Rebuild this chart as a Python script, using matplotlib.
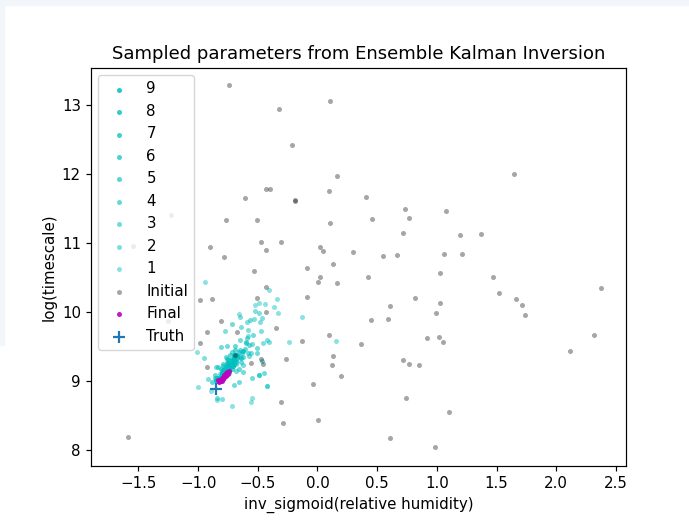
import matplotlib
matplotlib.use("Agg")
import matplotlib.pyplot as plt
from matplotlib.patches import Rectangle

# initial ensemble (prior draws)
init_x = [-0.744, 0.102, -0.322, -0.216, 0.163, 1.649, -0.428, -0.398, 0.093, -0.610,
          -0.188, -0.185, 0.409, 0.733, 1.073, 0.769, -0.766, -0.510, 0.102, 0.454,
          0.716, 1.191, 1.372, -0.470, -0.303, -0.903, 0.018, 0.049, -0.428, -0.783,
          0.300, 0.545, 0.665, 1.056, 1.207, 0.130, -0.091, -0.532, 1.029, 0.018,
          0.007, 0.161, 0.423, 1.467, 2.375, -0.433, 1.517, -0.091, -0.507, -0.884,
          0.816, 1.660, 0.607, 1.026, 1.710, 1.738, -0.984, -0.434, 0.990, -0.808,
          0.451, 0.591, -0.348, -0.674, -0.928, 2.316, 0.096, 0.917, 1.015, 1.052,
          -0.127, 0.362, -0.984, 2.112, -0.687, -0.261, 0.130, -0.473, 0.716, -0.554,
          -0.454, 0.769, 0.847, 0.121, -0.923, 0.197, -0.035, 0.741, 1.102, -0.303,
          -0.289, 0.001, 0.604, 0.987, -1.587, -1.227, -1.545, -1.250]
init_y = [13.285, 13.053, 12.947, 12.425, 11.976, 12.000, 11.783, 11.778, 11.754, 11.647,
          11.623, 11.615, 11.667, 11.498, 11.469, 11.357, 11.329, 11.338, 11.285, 11.348,
          11.150, 11.116, 11.130, 11.014, 11.010, 10.947, 10.947, 10.889, 10.899, 10.802,
          10.870, 10.816, 10.821, 10.836, 10.836, 10.691, 10.633, 10.589, 10.565, 10.507,
          10.430, 10.420, 10.507, 10.502, 10.353, 10.367, 10.275, 10.213, 10.208, 10.184,
          10.198, 10.193, 10.092, 10.126, 10.097, 9.952, 10.179, 10.005, 9.990, 9.874,
          9.889, 9.899, 9.763, 9.715, 9.710, 9.667, 9.671, 9.623, 9.643, 9.565,
          9.580, 9.531, 9.546, 9.430, 9.372, 9.324, 9.362, 9.324, 9.304, 9.266,
          9.251, 9.246, 9.232, 9.232, 9.208, 9.077, 8.961, 8.754, 8.556, 8.691,
          8.396, 8.440, 8.174, 8.043, 8.190, 11.400, 10.960, 9.870]

# EKI iterations 1..9
iter_x = {
    1: [-0.942, -0.403, -0.336, -0.130, 0.155, -0.241, -0.661, -0.493, -0.440, -0.523,
        -0.363, -0.333, -1.012, -0.998, -0.844, -0.713, -0.556, -0.551, -0.420, -0.895],
    2: [-0.649, -0.523, -0.487, -0.466, -0.481, -0.528, -0.594, -0.638, -0.775, -0.586,
        -0.476, -0.580, -0.426, -0.403, -0.454, -0.951, -0.800, -0.423, -0.490, -0.914],
    3: [-0.566, -0.716, -0.537, -0.649, -0.601, -0.550, -0.510, -0.556, -0.510, -0.808,
        -0.761, -0.466, -0.621, -0.627, -0.445, -0.493, -0.551, -0.655, -0.699, -0.850,
        -0.844, -0.62, -0.57, -0.68, -0.59],
    4: [-0.60, -0.65, -0.70, -0.75, -0.80, -0.85, -0.68, -0.62, -0.78, -0.72,
        -0.66, -0.58, -0.83, -0.74, -0.69, -0.77, -0.64, -0.88, -0.61, -0.71,
        -0.79, -0.86, -0.63, -0.67, -0.57, -0.82],
    5: [-0.66, -0.70, -0.74, -0.78, -0.82, -0.71, -0.76, -0.68, -0.80, -0.73,
        -0.64, -0.84, -0.69, -0.77, -0.75, -0.62, -0.67, -0.72, -0.86, -0.81,
        -0.65, -0.79, -0.70],
    6: [-0.70, -0.72, -0.75, -0.78, -0.81, -0.73, -0.77, -0.69, -0.80, -0.74,
        -0.83, -0.71, -0.67, -0.76, -0.85, -0.68, -0.79, -0.72],
    7: [-0.72, -0.74, -0.76, -0.79, -0.81, -0.75, -0.78, -0.73, -0.82, -0.77,
        -0.70, -0.84, -0.71, -0.80],
    8: [-0.73, -0.75, -0.77, -0.79, -0.81, -0.76, -0.78, -0.80, -0.74, -0.83,
        -0.72],
    9: [-0.74, -0.76, -0.78, -0.80, -0.82, -0.77, -0.79, -0.84, -0.73],
}
iter_y = {
    1: [10.43, 10.32, 10.19, 9.93, 9.58, 9.57, 9.97, 10.13, 10.11, 10.10,
        10.07, 9.99, 9.425, 8.91, 8.72, 8.64, 8.69, 8.76, 8.93, 8.85],
    2: [9.93, 10.01, 9.99, 9.92, 9.86, 9.90, 9.86, 9.78, 9.73, 9.74,
        9.73, 9.65, 9.60, 9.57, 9.55, 9.34, 8.74, 8.93, 9.09, 9.03],
    3: [9.88, 9.82, 9.67, 9.60, 9.56, 9.53, 9.48, 9.41, 9.40, 9.49,
        9.50, 9.29, 9.23, 9.13, 9.11, 9.08, 9.04, 8.99, 8.94, 9.20,
        8.75, 9.44, 9.36, 9.15, 9.62],
    4: [9.55, 9.45, 9.38, 9.30, 9.15, 9.02, 9.25, 9.35, 9.05, 9.42,
        9.18, 9.40, 9.20, 9.12, 9.50, 9.35, 9.28, 8.98, 9.47, 9.32,
        9.22, 9.08, 9.40, 9.33, 9.52, 9.10],
    5: [9.42, 9.35, 9.26, 9.17, 9.05, 9.22, 9.32, 9.28, 9.12, 9.38,
        9.33, 9.00, 9.45, 9.08, 9.20, 9.44, 9.37, 9.30, 9.04, 9.18,
        9.35, 9.24, 9.25],
    6: [9.33, 9.28, 9.22, 9.14, 9.07, 9.30, 9.18, 9.37, 9.03, 9.25,
        9.00, 9.21, 9.36, 9.26, 9.02, 9.31, 9.16, 9.18],
    7: [9.27, 9.23, 9.17, 9.10, 9.04, 9.26, 9.13, 9.20, 9.00, 9.21,
        9.30, 9.05, 9.24, 9.11],
    8: [9.22, 9.19, 9.14, 9.09, 9.03, 9.20, 9.10, 9.07, 9.15, 9.04,
        9.24],
    9: [9.18, 9.14, 9.10, 9.05, 9.00, 9.16, 9.06, 9.00, 9.21],
}

# final ensemble
final_x = [-0.745, -0.755, -0.765, -0.775, -0.785, -0.795, -0.805, -0.815, -0.825,
           -0.760, -0.780, -0.800, -0.770, -0.790, -0.810, -0.750, -0.820, -0.770,
           -0.800, -0.830]
final_y = [9.14, 9.12, 9.10, 9.08, 9.06, 9.04, 9.02, 9.00, 8.98,
           9.13, 9.08, 9.05, 9.07, 9.03, 9.01, 9.10, 9.02, 9.12, 9.00, 9.01]

truth_x, truth_y = -0.85, 8.88

sc = 1.078  # scale factor for font and marker sizes
fig = plt.figure(figsize=(6.89, 5.20), dpi=100)
fig.patches.append(Rectangle((0, 1 - 5 / 520), 1, 5 / 520, transform=fig.transFigure,
                             color='#f2f5f9', zorder=-1))
fig.patches.append(Rectangle((0, (520 - 345) / 520), 4 / 689, 340 / 520,
                             transform=fig.transFigure, color='#f2f5f9', zorder=-1))
ax = fig.add_axes([91 / 689, (520 - 466) / 520, 535 / 689, 398 / 520])

s = 13
for i in range(9, 0, -1):
    ax.scatter(iter_x[i], iter_y[i], s=s, color='c', alpha=0.4 + 0.05 * i,
               linewidths=0, label=str(i))
ax.scatter(init_x, init_y, s=s, color='k', alpha=0.35, linewidths=0, label='Initial')
ax.scatter(final_x, final_y, s=s, color='m', alpha=0.9, linewidths=0, label='Final')
ax.scatter([truth_x], [truth_y], s=70, marker='+', color='#1f77b4', linewidths=1.6,
           label='Truth')

ax.set_xlim(-1.897, 2.584)
ax.set_ylim(7.768, 13.536)
ax.set_xticks([-1.5, -1.0, -0.5, 0.0, 0.5, 1.0, 1.5, 2.0, 2.5])
ax.set_yticks([8, 9, 10, 11, 12, 13])
ax.tick_params(labelsize=10 * sc, length=3.5 * sc, width=0.8 * sc)
for sp in ax.spines.values():
    sp.set_linewidth(0.8 * sc)

ax.set_title('Sampled parameters from Ensemble Kalman Inversion', fontsize=12 * sc,
             pad=6 * sc)
ax.set_xlabel('inv_sigmoid(relative humidity)', fontsize=10 * sc)
ax.set_ylabel('log(timescale)', fontsize=10 * sc)
ax.legend(loc='upper left', fontsize=10 * sc)

fig.savefig('out.png', dpi=100)
